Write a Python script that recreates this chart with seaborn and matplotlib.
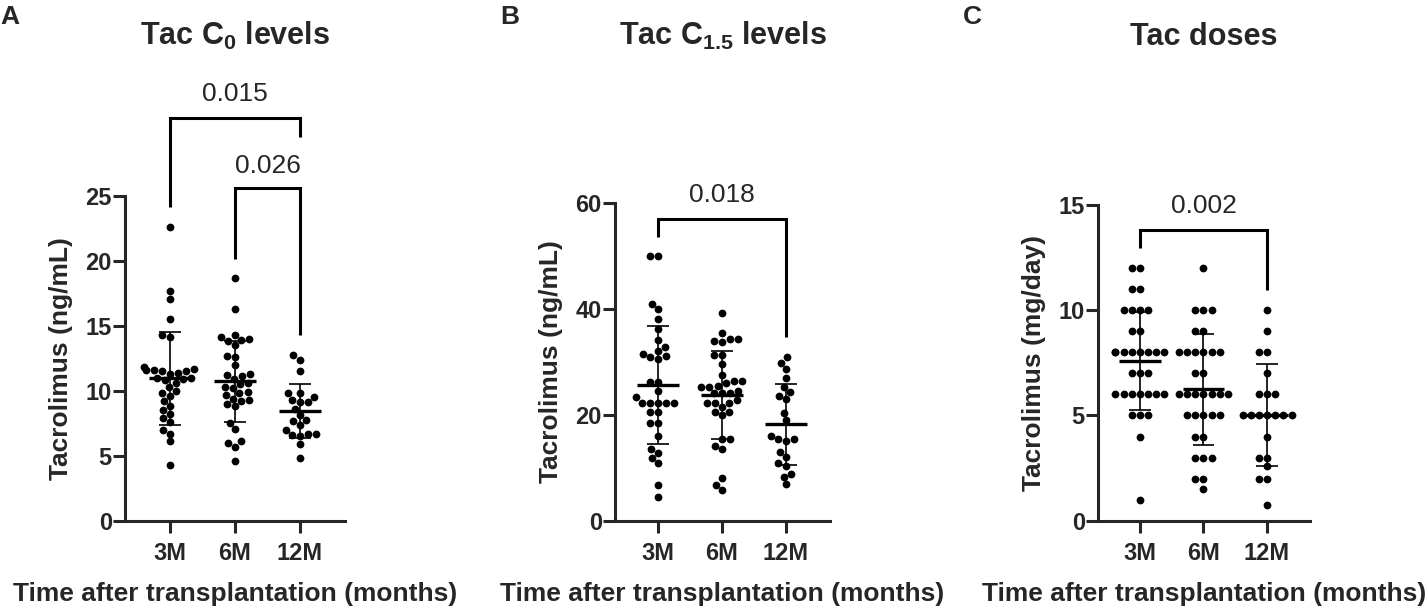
import matplotlib
matplotlib.use("Agg")
import matplotlib.pyplot as plt
import numpy as np
import pandas as pd
import seaborn as sns


GROUPS = ["3M", "6M", "12M"]

# Tac C0 levels (ng/mL)
C0_3M = [22.6, 17.7, 17.05, 15.5, 14.3, 14.1, 11.8, 11.7, 11.6, 11.6, 11.5, 11.5,
         11.4, 11.3, 11.0, 11.0, 10.9, 10.8, 10.6, 10.3, 10.0, 9.8, 9.6, 9.2,
         8.8, 8.5, 8.2, 7.9, 7.6, 7.0, 6.7, 6.1, 4.3]
C0_6M = [18.65, 16.25, 14.3, 14.1, 14.0, 13.9, 13.8, 13.5, 12.65, 12.6, 12.0,
         11.3, 11.2, 11.1, 10.9, 10.6, 10.5, 10.3, 10.2, 9.9, 9.8, 9.7, 9.4,
         9.3, 9.2, 9.0, 8.8, 7.5, 7.05, 6.1, 6.0, 5.7, 4.6]
C0_12M = [12.75, 12.4, 11.55, 9.55, 9.8, 9.8, 9.1, 9.3, 9.15, 8.6, 8.13, 7.7,
          7.75, 7.36, 6.98, 6.67, 6.5, 6.67, 6.57, 5.9, 4.8]
C0_MEAN = [10.95, 10.72, 8.44]
C0_SD = [3.6, 3.13, 2.08]

# Tac C1.5 levels (ng/mL)
C15_3M = [50.0, 50.0, 40.9, 39.9, 38.1, 36.1, 34.1, 32.8, 32.0, 31.5, 31.0, 30.9,
          30.5, 26.2, 26.2, 24.5, 23.4, 22.3, 22.3, 22.3, 22.3, 22.3, 20.5, 20.5,
          18.4, 18.4, 16.0, 13.5, 12.7, 11.8, 10.9, 6.7, 4.5]
C15_6M = [39.1, 35.5, 34.3, 33.8, 34.3, 33.9, 31.3, 31.3, 29.6, 27.5, 26.4, 26.4,
          25.3, 25.4, 25.3, 25.9, 24.1, 24.4, 24.1, 24.1, 22.3, 22.7, 22.3, 22.3,
          21.5, 20.6, 20.6, 19.9, 15.4, 15.4, 13.5, 14.1, 8.0, 5.7, 6.7]
C15_12M = [30.9, 29.8, 28.6, 26.9, 25.3, 24.2, 23.6, 22.9, 20.4, 19.0, 15.4,
           15.0, 15.5, 16.0, 13.0, 12.1, 10.8, 10.3, 8.9, 8.3, 6.9]
C15_MEAN = [25.6, 23.7, 18.2]
C15_SD = [11.2, 8.35, 7.6]

# Tac doses (mg/day)
DOSE_3M = [12, 12, 11, 11, 10, 10, 10, 10, 9, 9, 8, 8, 8, 8, 8, 8, 8, 8,
           7, 7, 7, 6, 6, 6, 6, 6, 6, 6, 5, 5, 5, 4, 1]
DOSE_6M = [12, 10, 10, 10, 9, 9, 8, 8, 8, 8, 8, 8, 7, 7, 6, 6, 6, 6, 6, 6, 6,
           5, 5, 5, 5, 5, 4, 4, 3, 3, 3, 2, 2, 1.5]
DOSE_12M = [10, 9, 8, 8, 7, 6, 6, 6, 5, 5, 5, 5, 5, 5, 5, 4, 3, 3, 2.6, 2, 2, 0.75]
DOSE_MEAN = [7.59, 6.24, 5.02]
DOSE_SD = [2.34, 2.63, 2.44]

PANELS = [
    {
        "letter": "A", "title": "Tac C$_{0}$ levels", "ylabel": "Tacrolimus (ng/mL)",
        "values": [C0_3M, C0_6M, C0_12M], "mean": C0_MEAN, "sd": C0_SD,
        "ylim": 25, "yticks": [0, 5, 10, 15, 20, 25],
        "box": (125, 195.7, 345, 520.7), "xlim": (-0.692, 2.692), "letter_x": 0,
        # x1, x2, y_top, y_left_end, y_right_end, label, label_x, label_y
        "brackets": [(0, 2, 30.95, 24.15, 29.55, "0.015", 1.0, 32.3),
                     (1, 2, 25.57, 20.13, 14.3, "0.026", 1.5, 26.75)],
    },
    {
        "letter": "B", "title": "Tac C$_{1.5}$ levels", "ylabel": "Tacrolimus (ng/mL)",
        "values": [C15_3M, C15_6M, C15_12M], "mean": C15_MEAN, "sd": C15_SD,
        "ylim": 60, "yticks": [0, 20, 40, 60],
        "box": (615, 202.7, 830, 520.7), "xlim": (-0.672, 2.688), "letter_x": 500,
        "brackets": [(0, 2, 57.0, 53.6, 34.6, "0.018", 1.0, 60.2)],
    },
    {
        "letter": "C", "title": "Tac doses", "ylabel": "Tacrolimus (mg/day)",
        "values": [DOSE_3M, DOSE_6M, DOSE_12M], "mean": DOSE_MEAN, "sd": DOSE_SD,
        "ylim": 15, "yticks": [0, 5, 10, 15],
        "box": (1098, 205, 1310, 520.7), "xlim": (-0.661, 2.677), "letter_x": 963,
        "brackets": [(0, 2, 13.8, 12.95, 10.96, "0.002", 1.0, 14.6)],
    },
]

W, H = 1427, 612
LW = 2.2


def draw_panel(fig, p):
    left, top, right, bottom = p["box"]
    ax = fig.add_axes([left / W, 1 - bottom / H, (right - left) / W, (bottom - top) / H])

    df = pd.DataFrame(
        [(g, v) for g, vals in zip(GROUPS, p["values"]) for v in vals],
        columns=["group", "value"],
    )
    sns.swarmplot(data=df, x="group", y="value", order=GROUPS, color="black",
                  size=5.6, ax=ax, zorder=3)

    for i, (m, s) in enumerate(zip(p["mean"], p["sd"])):
        ax.hlines(m, i - 0.33, i + 0.33, color="black", lw=2.4, zorder=4)
        ax.vlines(i, m - s, m + s, color="black", lw=1.2, zorder=4)
        ax.hlines([m - s, m + s], i - 0.17, i + 0.17, color="black", lw=1.2, zorder=4)

    for x1, x2, ytop, yl, yr, label, lx, ly in p["brackets"]:
        ax.plot([x1, x1, x2, x2], [yl, ytop, ytop, yr], color="black", lw=LW,
                clip_on=False, solid_capstyle="butt", solid_joinstyle="miter")
        ax.text(lx, ly, label, ha="center", va="baseline", fontsize=19,
                fontweight="normal", clip_on=False)

    ax.set_xlim(*p["xlim"])
    ax.set_ylim(0, p["ylim"])
    ax.set_yticks(p["yticks"])
    ax.set_xlabel("Time after transplantation (months)", fontsize=19,
                  fontweight="bold", labelpad=12)
    ax.set_ylabel(p["ylabel"], fontsize=19, fontweight="bold", labelpad=9)
    sns.despine(ax=ax)
    for side in ["left", "bottom"]:
        ax.spines[side].set_linewidth(LW)
    ax.tick_params(axis="both", length=8.5, width=LW, labelsize=17)
    ax.tick_params(axis="y", pad=1)
    ax.tick_params(axis="x", pad=7)
    for lab in ax.get_xticklabels() + ax.get_yticklabels():
        lab.set_fontweight("bold")

    cx = (left + right) / 2 / W
    fig.text(cx, 1 - 45 / H, p["title"], ha="center", va="baseline",
             fontsize=22, fontweight="bold")
    fig.text(p["letter_x"] / W, 1 - 24 / H, p["letter"], ha="left", va="baseline",
             fontsize=19, fontweight="bold")
    return ax


def main():
    sns.set_style("ticks")
    plt.rcParams["font.family"] = ["Liberation Sans", "DejaVu Sans"]
    plt.rcParams["mathtext.fontset"] = "custom"
    plt.rcParams["mathtext.rm"] = "Liberation Sans:bold"
    plt.rcParams["mathtext.default"] = "rm"

    fig = plt.figure(figsize=(W / 100, H / 100), dpi=100)
    for p in PANELS:
        draw_panel(fig, p)
    fig.savefig("out.png", dpi=100, facecolor="white")
    plt.close(fig)


if __name__ == "__main__":
    main()
